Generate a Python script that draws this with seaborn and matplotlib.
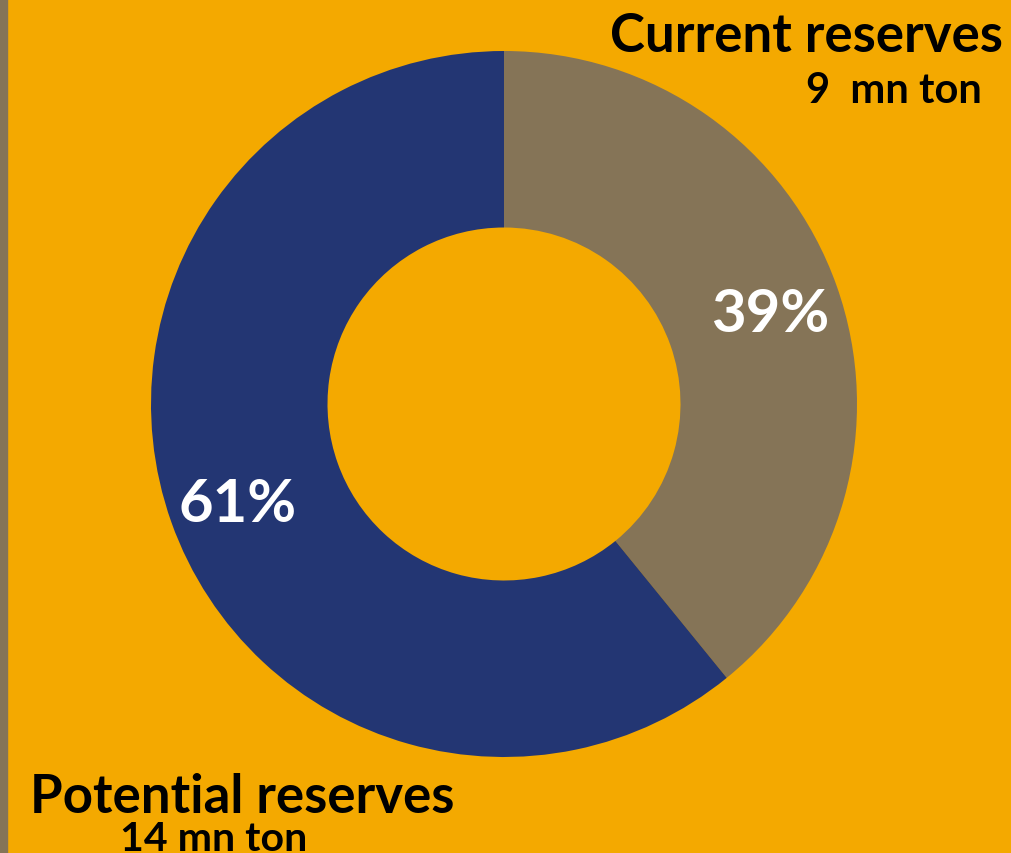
import matplotlib

matplotlib.use('Agg')
import matplotlib.pyplot as plt
import seaborn as sns
from matplotlib.patches import Rectangle

# data
labels = ['Current reserves', 'Potential reserves']
amounts = [9, 14]  # mn ton
sub_labels = ['9  mn ton', '14 mn ton']

BG = '#F4A900'
BROWN = '#857457'
NAVY = '#233673'

sns.set_theme(style='white', rc={'figure.facecolor': BG, 'axes.facecolor': BG})
plt.rcParams['font.family'] = ['Lato', 'DejaVu Sans']

W, H = 1011, 854
fig = plt.figure(figsize=(W / 100, H / 100), dpi=100)

# donut: centre (504, 405) px, radius 353 px
cx, cy, r = 504, 405, 353
ax = fig.add_axes([(cx - r) / W, (H - cy - r) / H, 2 * r / W, 2 * r / H])
wedges, _, autotexts = ax.pie(amounts, colors=[BROWN, NAVY], startangle=90, counterclock=False,
                              radius=1, wedgeprops=dict(width=0.5, linewidth=0),
                              autopct='%1.0f%%', pctdistance=0.80,
                              textprops=dict(color='white', fontsize=43, fontweight='bold'))
for t in autotexts:
    t.set_va('center_baseline')
ax.set_xlim(-1, 1)
ax.set_ylim(-1, 1)
ax.axis('off')

# thin strip on the left edge
fig.patches.append(Rectangle((0, 0), 7 / W, 1, transform=fig.transFigure, color=BROWN, zorder=0))

# labels
fig.text(1003 / W, 1 - 52 / H, labels[0], ha='right', va='baseline', fontsize=38, fontweight='bold', color='black')
fig.text(982 / W, 1 - 103 / H, sub_labels[0], ha='right', va='baseline', fontsize=30, fontweight='bold', color='black')
fig.text(30 / W, 1 - 813 / H, labels[1], ha='left', va='baseline', fontsize=38, fontweight='bold', color='black')
fig.text(120 / W, 1 - 851 / H, sub_labels[1], ha='left', va='baseline', fontsize=29.5, fontweight='bold', color='black')

plt.savefig('out.png', dpi=100, facecolor=BG)
